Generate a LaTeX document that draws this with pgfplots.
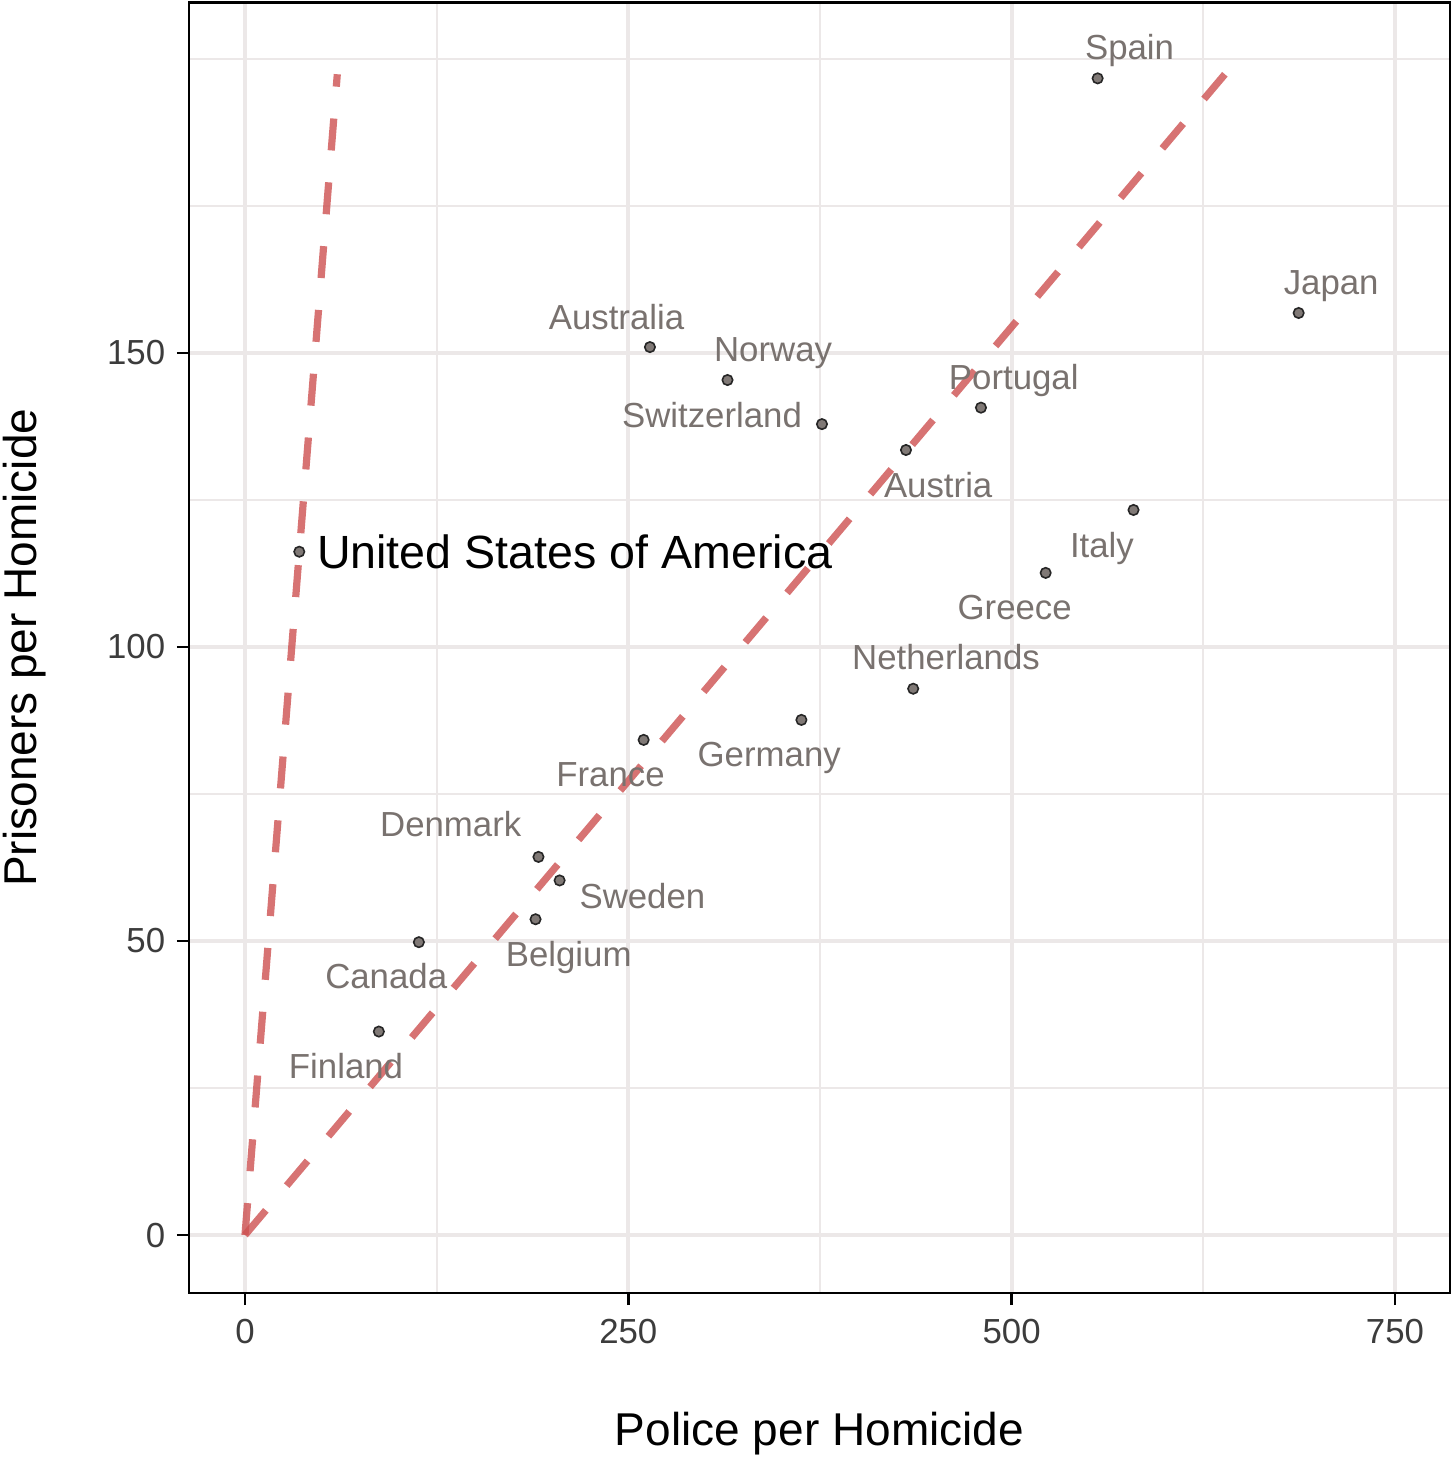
\documentclass[border=0pt]{standalone}
\usepackage{fontspec}
\setmainfont{Liberation Sans}
\usepackage{pgfplots}
\pgfplotsset{compat=1.18}
\definecolor{gridc}{RGB}{236,232,232}
\definecolor{linec}{RGB}{205,80,80}
\definecolor{labc}{RGB}{121,114,111}
\definecolor{ptfill}{RGB}{128,121,118}
\definecolor{tickc}{RGB}{60,60,60}
\newcommand\labfont{\fontsize{8.7}{10}\selectfont}
\newcommand\titfont{\fontsize{11.5}{13}\selectfont}
\begin{document}
\begin{tikzpicture}
\begin{axis}[
  name=ax,
  scale only axis,
  width=315.25pt, height=322.625pt,
  xmin=-36.52, xmax=785.9, ymin=-9.86, ymax=209.6,
  xtick={0,250,500,750}, ytick={0,50,100,150},
  minor xtick={125,375,625}, minor ytick={25,75,125,175,200},
  grid=both,
  major grid style={gridc, line width=1pt},
  minor grid style={gridc, line width=0.55pt},
  tick align=outside,
  major tick length=3pt, minor tick length=0pt,
  major tick style={black, line width=0.7pt},
  xtick pos=bottom, ytick pos=left,
  axis line style={black, line width=0.6pt},
  ticklabel style={font=\labfont, text=tickc},
  /pgf/number format/assume math mode=true,
  xticklabel style={anchor=north, inner sep=0pt, yshift=-3.25pt},
  yticklabel style={anchor=east, inner sep=0pt, xshift=-2.75pt},
  xlabel={Police per Homicide}, ylabel={Prisoners per Homicide},
  label style={font=\titfont, text=black},
  xlabel style={at={(axis description cs:0.5,-0.11778)}, anchor=base},
  ylabel style={at={(axis description cs:-0.12054,0.5)}, anchor=base},
]
\addplot[linec, opacity=0.8, line width=1.8pt, dash pattern=on 8pt off 8pt] coordinates {(0,0) (60.2,197.4)};
\addplot[linec, opacity=0.8, line width=1.8pt, dash pattern=on 8.08pt off 8.08pt] coordinates {(0,0) (639.1,197.4)};
\addplot[only marks, mark=*, mark size=1.3pt, mark options={fill=ptfill, draw=black!85, line width=0.4pt}] coordinates {
(556.1,196.7) (687.2,156.8) (264.1,151.0) (314.7,145.4) (376.3,137.9)
(480.0,140.7) (431.1,133.5) (579.5,123.3) (35.4,116.2) (522.2,112.6)
(435.8,92.9) (362.9,87.6) (260.0,84.2) (191.4,64.3) (205.2,60.3)
(189.5,53.7) (113.4,49.8) (87.3,34.6)
};
\begin{scope}[every node/.style={text=labc, anchor=base, font=\labfont}]
\node at (axis cs:576.9,199.9) {Spain};
\node at (axis cs:708.4,160.0) {Japan};
\node at (axis cs:242.3,154.0) {Australia};
\node at (axis cs:344.4,148.5) {Norway};
\node at (axis cs:304.6,137.4) {Switzerland};
\node at (axis cs:501.4,143.8) {Portugal};
\node at (axis cs:452.1,125.5) {Austria};
\node at (axis cs:558.9,115.3) {Italy};
\node at (axis cs:502.0,104.6) {Greece};
\node at (axis cs:457.2,96.2) {Netherlands};
\node at (axis cs:341.9,79.6) {Germany};
\node at (axis cs:238.4,76.2) {France};
\node at (axis cs:134.2,67.7) {Denmark};
\node at (axis cs:259.2,55.6) {Sweden};
\node at (axis cs:211.1,45.6) {Belgium};
\node at (axis cs:92.1,42.0) {Canada};
\node at (axis cs:65.9,26.6) {Finland};
\end{scope}
\node[text=black, anchor=base west, inner sep=0pt, font=\fontsize{11.65}{13}\selectfont] at (axis cs:46.5,113.4) {United States of America};
\end{axis}
\pgfresetboundingbox
\path ([xshift=-47.25pt,yshift=-41pt]ax.south west) rectangle ([xshift=1.5pt,yshift=0.625pt]ax.north east);
\end{tikzpicture}
\end{document}
